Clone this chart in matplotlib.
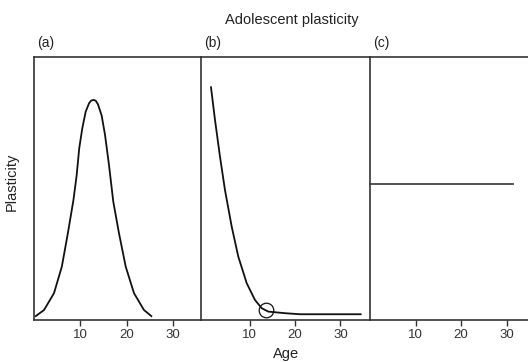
import numpy as np
import matplotlib
matplotlib.use("Agg")
import matplotlib.pyplot as plt

plt.rcParams["font.family"] = ["Liberation Sans", "DejaVu Sans"]

# panel (a): peaked plasticity
age_a = [0.37, 2.16, 4.31, 6.00, 7.30, 8.50, 9.20, 9.75, 10.41, 11.14, 11.86, 12.30, 12.78,
         13.30, 13.80, 14.59, 15.31, 16.17, 17.09, 18.32, 19.77, 21.56, 23.71, 25.29]
plast_a = [0.013, 0.036, 0.100, 0.201, 0.328, 0.454, 0.549, 0.651, 0.727, 0.790, 0.822, 0.832, 0.835,
           0.832, 0.818, 0.775, 0.702, 0.587, 0.448, 0.328, 0.201, 0.100, 0.036, 0.013]

# panel (b): decaying plasticity
age_b = [1.50, 2.38, 3.48, 4.58, 6.06, 7.51, 9.36, 11.19, 12.66, 14.11, 17.79, 21.09, 34.45]
plast_b = [0.883, 0.759, 0.619, 0.492, 0.353, 0.239, 0.138, 0.074, 0.043, 0.030, 0.024, 0.020, 0.020]
circle_b = (13.6, 0.036)

# panel (c): constant plasticity
age_c = [0, 31.3]
plast_c = [0.515, 0.515]

ticks = [10, 20, 30]
labels = ["(a)", "(b)", "(c)"]

W, H = 528, 362
fig = plt.figure(figsize=(W / 100, H / 100), dpi=100)

top, bot = 56.5, 319.5
panels = [(34, 167, (0, 36)), (201, 169, (-0.7, 36.5)), (370, 158, (0, 34.7))]
edge = "#333333"
axes = []
for (left, width, xl), lab in zip(panels, labels):
    ax = fig.add_axes([left / W, (H - bot) / H, width / W, (bot - top) / H])
    ax.set_xlim(*xl)
    ax.set_ylim(0, 1)
    ax.set_xticks(ticks)
    ax.set_yticks([])
    ax.tick_params(axis="x", direction="out", length=4.5, width=1, colors=edge,
                   labelsize=9.5, labelcolor="#333333", pad=2)
    ax.spines["right"].set_visible(False)
    for s in ["top", "left", "bottom"]:
        ax.spines[s].set_color(edge)
        ax.spines[s].set_linewidth(1.2)
    ax.patch.set_alpha(0)
    fig.text((left + 3) / W, 1 - 43.5 / H, lab, fontsize=10, color="#222222",
             ha="left", va="center")
    axes.append(ax)

axes[0].plot(age_a, plast_a, color="#111111", lw=1.3, solid_joinstyle="round")
axes[1].plot(age_b, plast_b, color="#111111", lw=1.3, solid_joinstyle="round")
axes[1].plot(*circle_b, marker="o", ms=10.5, mfc="none", mec="#111111", mew=0.9)
axes[2].plot(age_c, plast_c, color="#444444", lw=1.3, clip_on=False)

fig.text(292 / W, 1 - 20 / H, "Adolescent plasticity", fontsize=10.5,
         color="#222222", ha="center", va="center")
fig.text(286 / W, 1 - 354 / H, "Age", fontsize=10.5, color="#222222",
         ha="center", va="center")
fig.text(12 / W, 1 - 182 / H, "Plasticity", fontsize=10.5, color="#222222",
         ha="center", va="center", rotation=90)

fig.savefig("out.png", dpi=100)
